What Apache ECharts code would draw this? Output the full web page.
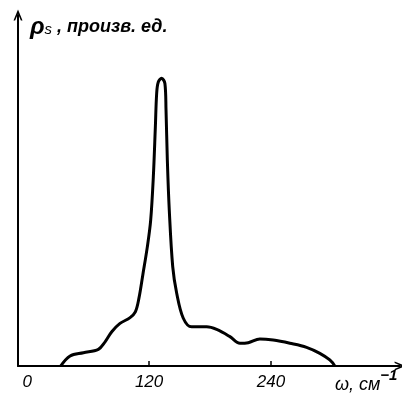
<!DOCTYPE html>
<html><head><meta charset="utf-8">
<script src="https://cdn.jsdelivr.net/npm/echarts@6/dist/echarts.min.js"></script>
<style>html,body{margin:0;padding:0;background:#fff}#c{width:402px;height:394px}</style>
</head><body><div id="c"></div>
<script>
// frequency ω, cm^-1
const omega = [33, 42.3, 55.4, 70.1, 76.7, 83.3, 91.4, 101.3, 106.5, 110.0, 114.0, 118.3, 121.6, 124.2, 126.2, 127.5, 129.1, 132.4, 135.6, 136.7, 138.0, 139.9, 143.3, 147.2, 153.7, 161.9, 176.7, 186.5, 199.6, 209.4, 217.6, 229.1, 242.2, 258.6, 275.0, 288.1, 297.9, 302.8];
// ρs, arbitrary units
const rho = [0, 3.5, 4.6, 5.8, 8.4, 11.9, 14.8, 16.8, 18.8, 23.5, 32.0, 41.4, 50.7, 65.7, 83.1, 94.8, 98.7, 100, 98.2, 88.9, 71.5, 54.2, 34.5, 25.3, 16.6, 13.6, 13.6, 12.7, 10.2, 7.9, 8.1, 9.4, 9.0, 7.9, 6.5, 4.4, 2.1, 0];
const xTickLabels = [0, 120, 240];
const xTicks = [120, 240];

const chart = echarts.init(document.getElementById('c'), null, {renderer: 'canvas'});
const font = 'Liberation Sans';
const chev = 'path://M0,12 L5,0 L10,12 L8.2,12 L5,4.5 L1.8,12 Z';
chart.setOption({
  animation: false,
  backgroundColor: '#fff',
  grid: {left: 18, right: 2, top: 15, bottom: 28, containLabel: false},
  xAxis: {
    type: 'value', min: -9, max: 367,
    splitLine: {show: false},
    axisLine: {show: true, onZero: false, lineStyle: {color: '#000', width: 2},
      symbol: ['none', chev], symbolSize: [9, 16]},
    axisTick: {show: true, inside: true, length: 5, lineStyle: {color: '#000', width: 1.5}, customValues: xTicks},
    axisLabel: {show: true, customValues: xTickLabels, color: '#000', fontFamily: font, fontStyle: 'italic', fontSize: 17, margin: 8}
  },
  yAxis: {
    type: 'value', min: 0, max: 122,
    splitLine: {show: false},
    axisLine: {show: true, onZero: false, lineStyle: {color: '#000', width: 2},
      symbol: ['none', chev], symbolSize: [9, 16]},
    axisTick: {show: false},
    axisLabel: {show: false}
  },
  graphic: [
    {type: 'text', left: 30, top: 15, style: {
      text: '{a|ρ}{s|s}{b| , произв. ед.}',
      rich: {
        a: {fontFamily: font, fontStyle: 'italic', fontWeight: 'bold', fontSize: 24, fill: '#000'},
        s: {fontFamily: font, fontStyle: 'italic', fontSize: 15, fill: '#000', padding: [6, 0, 0, 0]},
        b: {fontFamily: font, fontStyle: 'italic', fontWeight: 'bold', fontSize: 18, fill: '#000'}
      }}},
    {type: 'text', left: 335, top: 368, style: {
      text: '{a|ω, см}{b|−1}',
      rich: {
        a: {fontFamily: font, fontStyle: 'italic', fontSize: 18, fill: '#000', padding: [9, 0, 0, 0]},
        b: {fontFamily: font, fontStyle: 'italic', fontWeight: 'bold', fontSize: 15, fill: '#000', padding: [0, 0, 9, 0]}
      }}}
  ],
  series: [{
    type: 'line',
    data: omega.map((w, i) => [w, rho[i]]),
    smooth: 0.35,
    showSymbol: false,
    lineStyle: {color: '#000', width: 3},
    silent: true
  }]
});
</script></body></html>
